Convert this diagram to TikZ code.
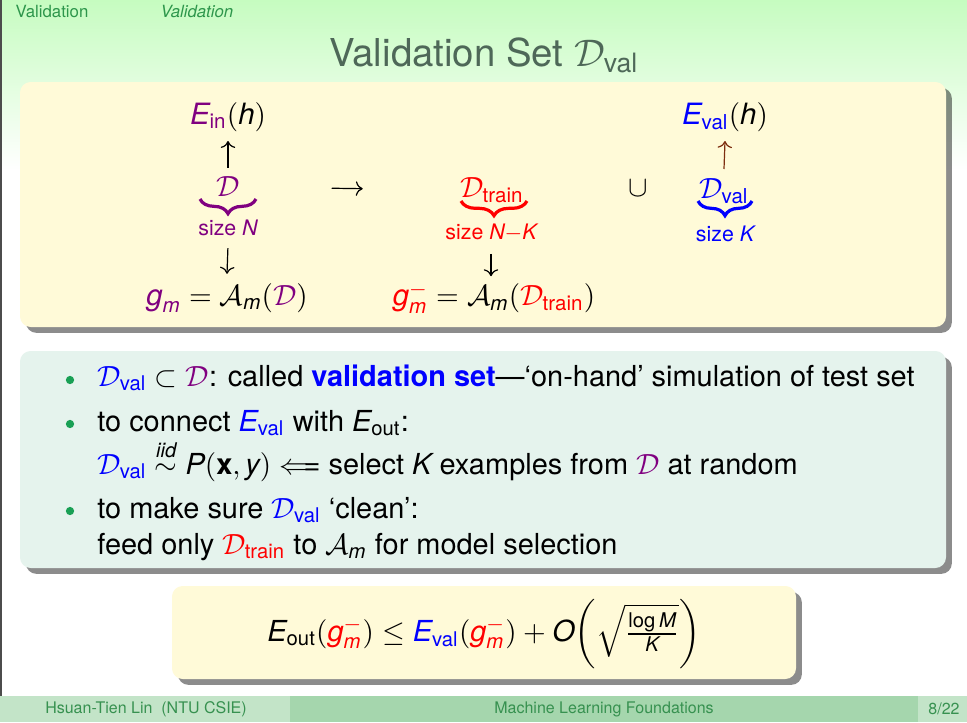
\documentclass[tikz,border=0pt]{standalone}
\usepackage{amsmath}
\usepackage{amssymb}
\usepackage{fontspec}
\setmainfont{TeX Gyre Heros}
\usetikzlibrary{arrows.meta, shadows, decorations.pathreplacing}
\definecolor{bgtop}{RGB}{198,252,192}
\definecolor{headgreen}{RGB}{45,150,75}
\definecolor{titlegray}{RGB}{78,104,88}
\definecolor{boxyellow}{RGB}{255,250,216}
\definecolor{boxgreen}{RGB}{229,243,237}
\definecolor{footlight}{RGB}{195,228,200}
\definecolor{footmid}{RGB}{165,214,173}
\definecolor{footgreen}{RGB}{55,145,80}
\definecolor{inpurple}{RGB}{128,0,128}
\definecolor{valblue}{RGB}{0,0,255}
\definecolor{trainred}{RGB}{255,0,0}
\definecolor{arrbrown}{RGB}{125,45,15}
\definecolor{bulletgreen}{RGB}{25,160,85}

\newcommand{\sv}[1]{\text{\itshape #1}}
\newcommand{\Ein}{\textcolor{inpurple}{\sv{E}_{\text{in}}}}
\newcommand{\Eval}{\textcolor{valblue}{\sv{E}_{\text{val}}}}
\newcommand{\Eout}{\sv{E}_{\text{out}}}
\newcommand{\Dall}{\textcolor{inpurple}{\mathcal{D}}}
\newcommand{\Dtrain}{\textcolor{trainred}{\mathcal{D}_{\text{train}}}}
\newcommand{\Dval}{\textcolor{valblue}{\mathcal{D}_{\text{val}}}}
\newcommand{\gm}{\textcolor{inpurple}{\sv{g}_{\sv{m}}}}
\newcommand{\gmm}{\textcolor{trainred}{\sv{g}_{\sv{m}}^{-}}}
\newcommand{\Am}{\mathcal{A}_{\sv{m}}}

\begin{document}
\begin{tikzpicture}[x=0.375pt, y=-0.375pt,
    every node/.style={font=\fontsize{11}{13}\selectfont},
    headtext/.style={text=headgreen, font=\fontsize{6.3}{7}\selectfont},
    foottext/.style={text=footgreen, font=\fontsize{6}{7}\selectfont},
    titletext/.style={text=titlegray, font=\fontsize{14.4}{16}\selectfont},
    bodytext/.style={font=\fontsize{10.85}{13}\selectfont},
    smalltext/.style={font=\fontsize{8}{10}\selectfont},
    arr/.style={-{Computer Modern Rightarrow}, line width=0.45pt},
    setbrace/.style={decorate, decoration={brace, mirror, amplitude=5.5pt}, line width=1.2pt},
    slidebox/.style={rounded corners=4pt, drop shadow={shadow xshift=2.2pt, shadow yshift=-2.2pt, opacity=0.45, fill=black}},
    bullet/.style={circle, fill=bulletgreen, inner sep=0pt, minimum size=3.1pt}]

    % page
    \useasboundingbox (0,0) rectangle (967,722);
    \fill[white] (0,0) rectangle (967,722);
    \shade[top color=bgtop, bottom color=white] (0,0) rectangle (967,170);
    \fill[black!70] (0,0) rectangle (2,722);

    % headline
    \node[headtext] (sect) at (52,11) {Validation};
    \node[headtext, font=\fontsize{6.3}{7}\selectfont\itshape] (subsect) at (197,11) {Validation};
    \node[titletext] (title) at (484,55) {Validation Set $\mathcal{D}_{\text{val}}$};

    % footline
    \fill[footlight] (0,696) rectangle (290,722);
    \fill[footmid] (290,696) rectangle (918,722);
    \fill[footlight] (918,696) rectangle (967,722);
    \node[foottext] (author) at (146,709) {Hsuan-Tien Lin\ \ (NTU CSIE)};
    \node[foottext] (course) at (604,709) {Machine Learning Foundations};
    \node[foottext] (page) at (944,709) {8/22};

    % boxes
    \fill[boxyellow, slidebox] (20,82) rectangle (946,327);
    \fill[boxgreen, slidebox] (20,351) rectangle (946,568);
    \fill[boxyellow, slidebox] (172,586) rectangle (796,679);

    % full data
    \node (ein) at (228,117) {$\Ein(\sv{h})$};
    \node[text=inpurple] (dall) at (228,187) {$\mathcal{D}$};
    \node[smalltext, text=inpurple] (sizen) at (228,228) {size $\sv{N}$};
    \node (gm) at (227,298) {$\gm = \Am(\Dall)$};
    \draw[arr] (dall.north) -- (ein.south);
    \draw[arr, shorten <=1pt] (sizen.south) -- (gm.north);
    \draw[setbrace, inpurple] (200,199) -- (256,199);

    % split
    \node (dtr) at (492,190) {$\Dtrain$};
    \node[smalltext, text=trainred] (sizenk) at (491,233) {size $\sv{N}{-}\sv{K}$};
    \node (gmm) at (494,298) {$\gmm = \Am(\Dtrain)$};
    \draw[arr, shorten <=1pt, shorten >=-1.2pt] (sizenk.south) -- (sizenk.south |- gmm.north);
    \draw[setbrace, trainred] (461,201) -- (527,201);
    \draw[arr, shorten <=31pt, shorten >=33pt] (dall.east) -- (dtr.west);

    \node (cup) at (638,188) {$\cup$};

    \node (evalh) at (725,117) {$\Eval(\sv{h})$};
    \node (dval) at (724,191) {$\Dval$};
    \node[smalltext, text=valblue] (sizek) at (725,234) {size $\sv{K}$};
    \draw[arr, arrbrown] (dval.north) -- (evalh.south);
    \draw[setbrace, valblue] (698,201) -- (752,201);

    % bullets
    \node[bullet] (b1) at (70,380) {};
    \node[bullet] (b2) at (70,424) {};
    \node[bullet] (b3) at (70,511) {};
    \node[bodytext, anchor=base west] (l1) at (88,386) {$\Dval \subset \Dall$: called \textbf{\color{valblue}validation set}---`on-hand' simulation of test set};
    \node[bodytext, anchor=base west] (l2) at (88,431) {to connect $\Eval$ with $\Eout$:};
    \node[bodytext, anchor=base west] (l3) at (88,474) {$\Dval \overset{\sv{iid}}{\sim} \sv{P}(\text{\bfseries x}, \sv{y}) \Longleftarrow$ select $\sv{K}$ examples from $\Dall$ at random};
    \node[bodytext, anchor=base west] (l4) at (88,518) {to make sure $\Dval$ `clean':};
    \node[bodytext, anchor=base west] (l5) at (88,554) {feed only $\Dtrain$ to $\Am$ for model selection};

    % bound
    \node[bodytext] (bound) at (484,634) {$\Eout(\gmm) \le \Eval(\gmm) + \sv{O}\biggl(\sqrt{\frac{\text{log}\,\sv{M}}{\sv{K}}}\biggr)$};
\end{tikzpicture}
\end{document}
